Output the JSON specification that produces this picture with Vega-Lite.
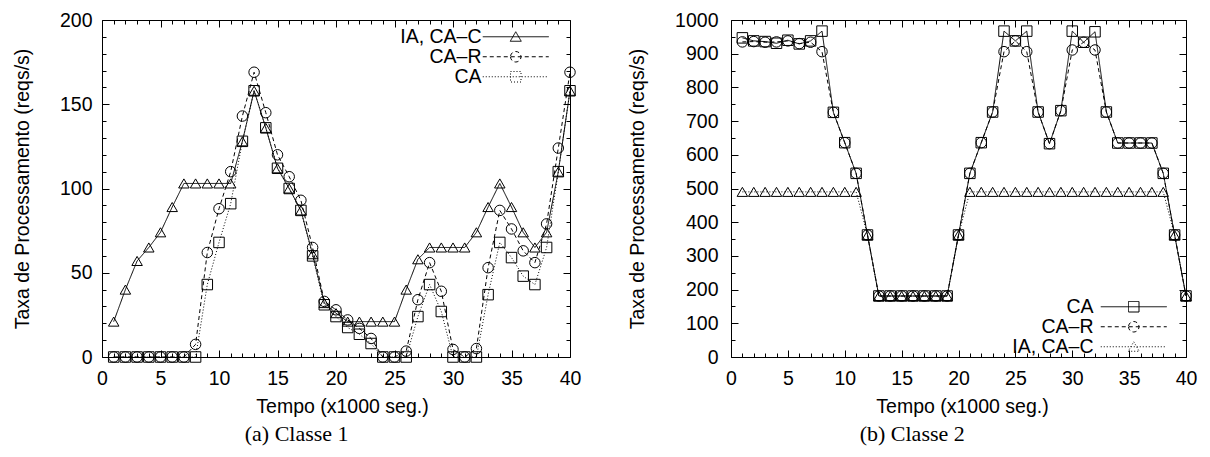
{
  "$schema": "https://vega.github.io/schema/vega-lite/v6.json",
  "background": "white",
  "padding": {"left": 11, "top": 9, "right": 5, "bottom": 2},
  "spacing": 45,
  "config": {
    "view": {"stroke": "black", "strokeWidth": 1},
    "font": "Liberation Sans",
    "axis": {"domain": false, "grid": false, "tickColor": "black", "tickWidth": 1, "labelColor": "black", "labelFont": "Liberation Sans", "labelFontSize": 19.5, "titleFont": "Liberation Sans", "titleFontSize": 19.5, "titleFontWeight": "normal", "titleColor": "black", "labelFlush": false, "labelOverlap": false},
    "axisX": {"titlePadding": 10, "labelPadding": 19},
    "axisY": {"titlePadding": 27, "labelPadding": 17},
    "title": {"font": "Liberation Serif", "fontSize": 22, "fontWeight": "normal", "color": "black", "orient": "bottom", "frame": "bounds", "offset": 8},
    "legend": {"title": null, "labelFont": "Liberation Sans", "labelFontSize": 19.5, "labelColor": "black", "labelAlign": "right", "labelOffset": -44, "symbolSize": 100, "symbolStrokeWidth": 1, "symbolStrokeColor": "black", "symbolFillColor": "transparent", "rowPadding": -1, "padding": 0, "orient": "none"}
  },
  "datasets": {
    "c1": [
      {"t":1,"v":21,"s":"IA, CA–C"},{"t":2,"v":40,"s":"IA, CA–C"},{"t":3,"v":57,"s":"IA, CA–C"},{"t":4,"v":65,"s":"IA, CA–C"},{"t":5,"v":74,"s":"IA, CA–C"},{"t":6,"v":89,"s":"IA, CA–C"},{"t":7,"v":103,"s":"IA, CA–C"},{"t":8,"v":103,"s":"IA, CA–C"},{"t":9,"v":103,"s":"IA, CA–C"},{"t":10,"v":103,"s":"IA, CA–C"},
      {"t":11,"v":103,"s":"IA, CA–C"},{"t":12,"v":128,"s":"IA, CA–C"},{"t":13,"v":158,"s":"IA, CA–C"},{"t":14,"v":136,"s":"IA, CA–C"},{"t":15,"v":112,"s":"IA, CA–C"},{"t":16,"v":100,"s":"IA, CA–C"},{"t":17,"v":87,"s":"IA, CA–C"},{"t":18,"v":61,"s":"IA, CA–C"},{"t":19,"v":32,"s":"IA, CA–C"},{"t":20,"v":26,"s":"IA, CA–C"},
      {"t":21,"v":21,"s":"IA, CA–C"},{"t":22,"v":21,"s":"IA, CA–C"},{"t":23,"v":21,"s":"IA, CA–C"},{"t":24,"v":21,"s":"IA, CA–C"},{"t":25,"v":21,"s":"IA, CA–C"},{"t":26,"v":40,"s":"IA, CA–C"},{"t":27,"v":58,"s":"IA, CA–C"},{"t":28,"v":65,"s":"IA, CA–C"},{"t":29,"v":65,"s":"IA, CA–C"},{"t":30,"v":65,"s":"IA, CA–C"},
      {"t":31,"v":65,"s":"IA, CA–C"},{"t":32,"v":74,"s":"IA, CA–C"},{"t":33,"v":89,"s":"IA, CA–C"},{"t":34,"v":103,"s":"IA, CA–C"},{"t":35,"v":89,"s":"IA, CA–C"},{"t":36,"v":74,"s":"IA, CA–C"},{"t":37,"v":65,"s":"IA, CA–C"},{"t":38,"v":74,"s":"IA, CA–C"},{"t":39,"v":110,"s":"IA, CA–C"},{"t":40,"v":158,"s":"IA, CA–C"},
      {"t":1,"v":0,"s":"CA–R"},{"t":2,"v":0,"s":"CA–R"},{"t":3,"v":0,"s":"CA–R"},{"t":4,"v":0,"s":"CA–R"},{"t":5,"v":0,"s":"CA–R"},{"t":6,"v":0,"s":"CA–R"},{"t":7,"v":0,"s":"CA–R"},{"t":8,"v":7.5,"s":"CA–R"},{"t":9,"v":62,"s":"CA–R"},{"t":10,"v":88,"s":"CA–R"},
      {"t":11,"v":110,"s":"CA–R"},{"t":12,"v":143,"s":"CA–R"},{"t":13,"v":169,"s":"CA–R"},{"t":14,"v":145,"s":"CA–R"},{"t":15,"v":120,"s":"CA–R"},{"t":16,"v":107,"s":"CA–R"},{"t":17,"v":93,"s":"CA–R"},{"t":18,"v":65,"s":"CA–R"},{"t":19,"v":33,"s":"CA–R"},{"t":20,"v":28,"s":"CA–R"},
      {"t":21,"v":22,"s":"CA–R"},{"t":22,"v":17,"s":"CA–R"},{"t":23,"v":11,"s":"CA–R"},{"t":24,"v":0,"s":"CA–R"},{"t":25,"v":0,"s":"CA–R"},{"t":26,"v":3.5,"s":"CA–R"},{"t":27,"v":34,"s":"CA–R"},{"t":28,"v":56,"s":"CA–R"},{"t":29,"v":39,"s":"CA–R"},{"t":30,"v":4.5,"s":"CA–R"},
      {"t":31,"v":0,"s":"CA–R"},{"t":32,"v":5,"s":"CA–R"},{"t":33,"v":53,"s":"CA–R"},{"t":34,"v":87,"s":"CA–R"},{"t":35,"v":76,"s":"CA–R"},{"t":36,"v":63,"s":"CA–R"},{"t":37,"v":56,"s":"CA–R"},{"t":38,"v":79,"s":"CA–R"},{"t":39,"v":124,"s":"CA–R"},{"t":40,"v":169,"s":"CA–R"},
      {"t":1,"v":0,"s":"CA"},{"t":2,"v":0,"s":"CA"},{"t":3,"v":0,"s":"CA"},{"t":4,"v":0,"s":"CA"},{"t":5,"v":0,"s":"CA"},{"t":6,"v":0,"s":"CA"},{"t":7,"v":0,"s":"CA"},{"t":8,"v":0,"s":"CA"},{"t":9,"v":43,"s":"CA"},{"t":10,"v":68,"s":"CA"},
      {"t":11,"v":91,"s":"CA"},{"t":12,"v":128,"s":"CA"},{"t":13,"v":158,"s":"CA"},{"t":14,"v":136,"s":"CA"},{"t":15,"v":112,"s":"CA"},{"t":16,"v":100,"s":"CA"},{"t":17,"v":87,"s":"CA"},{"t":18,"v":60,"s":"CA"},{"t":19,"v":31,"s":"CA"},{"t":20,"v":24,"s":"CA"},
      {"t":21,"v":17.5,"s":"CA"},{"t":22,"v":13.5,"s":"CA"},{"t":23,"v":8,"s":"CA"},{"t":24,"v":0,"s":"CA"},{"t":25,"v":0,"s":"CA"},{"t":26,"v":0,"s":"CA"},{"t":27,"v":24,"s":"CA"},{"t":28,"v":43,"s":"CA"},{"t":29,"v":27,"s":"CA"},{"t":30,"v":0,"s":"CA"},
      {"t":31,"v":0,"s":"CA"},{"t":32,"v":0,"s":"CA"},{"t":33,"v":37,"s":"CA"},{"t":34,"v":68,"s":"CA"},{"t":35,"v":59,"s":"CA"},{"t":36,"v":48,"s":"CA"},{"t":37,"v":43,"s":"CA"},{"t":38,"v":65,"s":"CA"},{"t":39,"v":110,"s":"CA"},{"t":40,"v":158,"s":"CA"}
    ],
    "c2": [
      {"t":1,"v":947,"s":"CA"},{"t":2,"v":938,"s":"CA"},{"t":3,"v":936,"s":"CA"},{"t":4,"v":931,"s":"CA"},{"t":5,"v":940,"s":"CA"},{"t":6,"v":929,"s":"CA"},{"t":7,"v":938,"s":"CA"},{"t":8,"v":967,"s":"CA"},{"t":9,"v":726,"s":"CA"},{"t":10,"v":636,"s":"CA"},
      {"t":11,"v":545,"s":"CA"},{"t":12,"v":362,"s":"CA"},{"t":13,"v":181,"s":"CA"},{"t":14,"v":181,"s":"CA"},{"t":15,"v":181,"s":"CA"},{"t":16,"v":181,"s":"CA"},{"t":17,"v":181,"s":"CA"},{"t":18,"v":181,"s":"CA"},{"t":19,"v":181,"s":"CA"},{"t":20,"v":362,"s":"CA"},
      {"t":21,"v":545,"s":"CA"},{"t":22,"v":636,"s":"CA"},{"t":23,"v":727,"s":"CA"},{"t":24,"v":967,"s":"CA"},{"t":25,"v":938,"s":"CA"},{"t":26,"v":967,"s":"CA"},{"t":27,"v":727,"s":"CA"},{"t":28,"v":633,"s":"CA"},{"t":29,"v":731,"s":"CA"},{"t":30,"v":967,"s":"CA"},
      {"t":31,"v":934,"s":"CA"},{"t":32,"v":965,"s":"CA"},{"t":33,"v":727,"s":"CA"},{"t":34,"v":635,"s":"CA"},{"t":35,"v":635,"s":"CA"},{"t":36,"v":635,"s":"CA"},{"t":37,"v":635,"s":"CA"},{"t":38,"v":545,"s":"CA"},{"t":39,"v":362,"s":"CA"},{"t":40,"v":181,"s":"CA"},
      {"t":1,"v":935,"s":"CA–R"},{"t":2,"v":936,"s":"CA–R"},{"t":3,"v":934,"s":"CA–R"},{"t":4,"v":935,"s":"CA–R"},{"t":5,"v":938,"s":"CA–R"},{"t":6,"v":930,"s":"CA–R"},{"t":7,"v":934,"s":"CA–R"},{"t":8,"v":906,"s":"CA–R"},{"t":9,"v":726,"s":"CA–R"},{"t":10,"v":636,"s":"CA–R"},
      {"t":11,"v":545,"s":"CA–R"},{"t":12,"v":362,"s":"CA–R"},{"t":13,"v":181,"s":"CA–R"},{"t":14,"v":181,"s":"CA–R"},{"t":15,"v":181,"s":"CA–R"},{"t":16,"v":181,"s":"CA–R"},{"t":17,"v":181,"s":"CA–R"},{"t":18,"v":181,"s":"CA–R"},{"t":19,"v":181,"s":"CA–R"},{"t":20,"v":362,"s":"CA–R"},
      {"t":21,"v":545,"s":"CA–R"},{"t":22,"v":636,"s":"CA–R"},{"t":23,"v":727,"s":"CA–R"},{"t":24,"v":906,"s":"CA–R"},{"t":25,"v":938,"s":"CA–R"},{"t":26,"v":906,"s":"CA–R"},{"t":27,"v":727,"s":"CA–R"},{"t":28,"v":633,"s":"CA–R"},{"t":29,"v":731,"s":"CA–R"},{"t":30,"v":911,"s":"CA–R"},
      {"t":31,"v":934,"s":"CA–R"},{"t":32,"v":911,"s":"CA–R"},{"t":33,"v":727,"s":"CA–R"},{"t":34,"v":635,"s":"CA–R"},{"t":35,"v":635,"s":"CA–R"},{"t":36,"v":635,"s":"CA–R"},{"t":37,"v":635,"s":"CA–R"},{"t":38,"v":545,"s":"CA–R"},{"t":39,"v":362,"s":"CA–R"},{"t":40,"v":181,"s":"CA–R"},
      {"t":1,"v":490,"s":"IA, CA–C"},{"t":2,"v":490,"s":"IA, CA–C"},{"t":3,"v":490,"s":"IA, CA–C"},{"t":4,"v":490,"s":"IA, CA–C"},{"t":5,"v":490,"s":"IA, CA–C"},{"t":6,"v":490,"s":"IA, CA–C"},{"t":7,"v":490,"s":"IA, CA–C"},{"t":8,"v":490,"s":"IA, CA–C"},{"t":9,"v":490,"s":"IA, CA–C"},{"t":10,"v":490,"s":"IA, CA–C"},
      {"t":11,"v":490,"s":"IA, CA–C"},{"t":12,"v":362,"s":"IA, CA–C"},{"t":13,"v":181,"s":"IA, CA–C"},{"t":14,"v":181,"s":"IA, CA–C"},{"t":15,"v":181,"s":"IA, CA–C"},{"t":16,"v":181,"s":"IA, CA–C"},{"t":17,"v":181,"s":"IA, CA–C"},{"t":18,"v":181,"s":"IA, CA–C"},{"t":19,"v":181,"s":"IA, CA–C"},{"t":20,"v":362,"s":"IA, CA–C"},
      {"t":21,"v":490,"s":"IA, CA–C"},{"t":22,"v":490,"s":"IA, CA–C"},{"t":23,"v":490,"s":"IA, CA–C"},{"t":24,"v":490,"s":"IA, CA–C"},{"t":25,"v":490,"s":"IA, CA–C"},{"t":26,"v":490,"s":"IA, CA–C"},{"t":27,"v":490,"s":"IA, CA–C"},{"t":28,"v":490,"s":"IA, CA–C"},{"t":29,"v":490,"s":"IA, CA–C"},{"t":30,"v":490,"s":"IA, CA–C"},
      {"t":31,"v":490,"s":"IA, CA–C"},{"t":32,"v":490,"s":"IA, CA–C"},{"t":33,"v":490,"s":"IA, CA–C"},{"t":34,"v":490,"s":"IA, CA–C"},{"t":35,"v":490,"s":"IA, CA–C"},{"t":36,"v":490,"s":"IA, CA–C"},{"t":37,"v":490,"s":"IA, CA–C"},{"t":38,"v":490,"s":"IA, CA–C"},{"t":39,"v":362,"s":"IA, CA–C"},{"t":40,"v":181,"s":"IA, CA–C"}
    ]
  },
  "hconcat": [
    {
      "width": 468, "height": 337,
      "title": {"text": "(a) Classe 1"},
      "data": {"name": "c1"},
      "layer": [
        {
          "mark": {"type": "line", "color": "black", "strokeWidth": 1},
          "encoding": {
            "x": {"field": "t", "type": "quantitative", "scale": {"domain": [0, 40], "nice": false, "zero": false}, "axis": {"orient": "bottom", "values": [0,5,10,15,20,25,30,35,40], "tickSize": -7, "title": "Tempo (x1000 seg.)", "titleX": 240}},
            "y": {"field": "v", "type": "quantitative", "scale": {"domain": [0, 200], "nice": false}, "axis": {"orient": "left", "values": [0,50,100,150,200], "tickSize": -7, "title": "Taxa de Processamento (reqs/s)"}},
            "strokeDash": {"field": "s", "type": "nominal", "scale": {"domain": ["IA, CA–C", "CA–R", "CA"], "range": [[1,0],[4,3],[1,2]]},
              "legend": {"legendX": 404, "legendY": 7, "labelOffset": -44,
                "encode": {"symbols": {"update": {"fill": {"value": "transparent"}, "stroke": {"value": "black"}, "shape": {"signal": "datum.value == 'CA' ? 'M-6.6,0H6.6M-1.05,-1.05H1.05V1.05H-1.05Z' : datum.value == 'CA–R' ? 'M-6.6,0H6.6M-1.05,0A1.05,1.05,0,1,0,1.05,0A1.05,1.05,0,1,0,-1.05,0Z' : 'M-6.6,0H6.6M0,-1L1.1,0.9L-1.1,0.9Z'"}}}}}}
          }
        },
        {
          "transform": [{"filter": "datum.s == 'IA, CA–C'"}],
          "mark": {"type": "point", "shape": "triangle-up", "filled": false, "color": "black", "size": 110, "strokeWidth": 1, "opacity": 1},
          "encoding": {
            "x": {"field": "t", "type": "quantitative", "scale": {"domain": [0, 40], "nice": false}, "axis": {"orient": "top", "values": [0,5,10,15,20,25,30,35,40], "tickSize": -7, "labels": false, "title": null}},
            "y": {"field": "v", "type": "quantitative", "scale": {"domain": [0, 200], "nice": false}, "axis": {"orient": "right", "values": [0,50,100,150,200], "tickSize": -7, "labels": false, "title": null}}
          }
        },
        {
          "transform": [{"filter": "datum.s == 'CA–R'"}],
          "mark": {"type": "point", "shape": "circle", "filled": false, "color": "black", "size": 110, "strokeWidth": 1, "opacity": 1},
          "encoding": {
            "x": {"field": "t", "type": "quantitative", "scale": {"domain": [0, 40], "nice": false}, "axis": {"orient": "bottom", "values": [1,2,3,4,6,7,8,9,11,12,13,14,16,17,18,19,21,22,23,24,26,27,28,29,31,32,33,34,36,37,38,39], "tickSize": -4, "labels": false, "title": null}},
            "y": {"field": "v", "type": "quantitative", "scale": {"domain": [0, 200], "nice": false}, "axis": {"orient": "left", "values": [10,20,30,40,60,70,80,90,110,120,130,140,160,170,180,190], "tickSize": -4, "labels": false, "title": null}}
          }
        },
        {
          "transform": [{"filter": "datum.s == 'CA'"}],
          "mark": {"type": "point", "shape": "square", "filled": false, "color": "black", "size": 110, "strokeWidth": 1, "opacity": 1},
          "encoding": {
            "x": {"field": "t", "type": "quantitative", "scale": {"domain": [0, 40], "nice": false}, "axis": {"orient": "top", "values": [1,2,3,4,6,7,8,9,11,12,13,14,16,17,18,19,21,22,23,24,26,27,28,29,31,32,33,34,36,37,38,39], "tickSize": -4, "labels": false, "title": null}},
            "y": {"field": "v", "type": "quantitative", "scale": {"domain": [0, 200], "nice": false}, "axis": {"orient": "right", "values": [10,20,30,40,60,70,80,90,110,120,130,140,160,170,180,190], "tickSize": -4, "labels": false, "title": null}}
          }
        }
      ],
      "resolve": {"axis": {"x": "independent", "y": "independent"}}
    },
    {
      "width": 455, "height": 337,
      "title": {"text": "(b) Classe 2"},
      "data": {"name": "c2"},
      "layer": [
        {
          "mark": {"type": "line", "color": "black", "strokeWidth": 1},
          "encoding": {
            "x": {"field": "t", "type": "quantitative", "scale": {"domain": [0, 40], "nice": false}, "axis": {"orient": "bottom", "values": [0,5,10,15,20,25,30,35,40], "tickSize": -7, "title": "Tempo (x1000 seg.)", "titleX": 231}},
            "y": {"field": "v", "type": "quantitative", "scale": {"domain": [0, 1000], "nice": false}, "axis": {"orient": "left", "values": [0,100,200,300,400,500,600,700,800,900,1000], "format": "d", "tickSize": -7, "labelPadding": 20, "title": "Taxa de Processamento (reqs/s)"}},
            "strokeDash": {"field": "s", "type": "nominal", "scale": {"domain": ["CA", "CA–R", "IA, CA–C"], "range": [[1,0],[4,3],[1,2]]},
              "legend": {"legendX": 393, "legendY": 277, "labelOffset": -50,
                "encode": {"symbols": {"update": {"fill": {"value": "transparent"}, "stroke": {"value": "black"}, "shape": {"signal": "datum.value == 'CA' ? 'M-6.6,0H6.6M-1.05,-1.05H1.05V1.05H-1.05Z' : datum.value == 'CA–R' ? 'M-6.6,0H6.6M-1.05,0A1.05,1.05,0,1,0,1.05,0A1.05,1.05,0,1,0,-1.05,0Z' : 'M-6.6,0H6.6M0,-1L1.1,0.9L-1.1,0.9Z'"}}}}}}
          }
        },
        {
          "transform": [{"filter": "datum.s == 'CA'"}],
          "mark": {"type": "point", "shape": "square", "filled": false, "color": "black", "size": 110, "strokeWidth": 1, "opacity": 1},
          "encoding": {
            "x": {"field": "t", "type": "quantitative", "scale": {"domain": [0, 40], "nice": false}, "axis": {"orient": "top", "values": [0,5,10,15,20,25,30,35,40], "tickSize": -7, "labels": false, "title": null}},
            "y": {"field": "v", "type": "quantitative", "scale": {"domain": [0, 1000], "nice": false}, "axis": {"orient": "right", "values": [0,100,200,300,400,500,600,700,800,900,1000], "tickSize": -7, "labels": false, "title": null}}
          }
        },
        {
          "transform": [{"filter": "datum.s == 'CA–R'"}],
          "mark": {"type": "point", "shape": "circle", "filled": false, "color": "black", "size": 110, "strokeWidth": 1, "opacity": 1},
          "encoding": {
            "x": {"field": "t", "type": "quantitative", "scale": {"domain": [0, 40], "nice": false}, "axis": {"orient": "bottom", "values": [1,2,3,4,6,7,8,9,11,12,13,14,16,17,18,19,21,22,23,24,26,27,28,29,31,32,33,34,36,37,38,39], "tickSize": -4, "labels": false, "title": null}},
            "y": {"field": "v", "type": "quantitative", "scale": {"domain": [0, 1000], "nice": false}, "axis": {"orient": "left", "values": [50,150,250,350,450,550,650,750,850,950], "tickSize": -4, "labels": false, "title": null}}
          }
        },
        {
          "transform": [{"filter": "datum.s == 'IA, CA–C'"}],
          "mark": {"type": "point", "shape": "triangle-up", "filled": false, "color": "black", "size": 110, "strokeWidth": 1, "opacity": 1},
          "encoding": {
            "x": {"field": "t", "type": "quantitative", "scale": {"domain": [0, 40], "nice": false}, "axis": {"orient": "top", "values": [1,2,3,4,6,7,8,9,11,12,13,14,16,17,18,19,21,22,23,24,26,27,28,29,31,32,33,34,36,37,38,39], "tickSize": -4, "labels": false, "title": null}},
            "y": {"field": "v", "type": "quantitative", "scale": {"domain": [0, 1000], "nice": false}, "axis": {"orient": "right", "values": [50,150,250,350,450,550,650,750,850,950], "tickSize": -4, "labels": false, "title": null}}
          }
        }
      ],
      "resolve": {"axis": {"x": "independent", "y": "independent"}}
    }
  ],
  "resolve": {"scale": {"x": "independent", "y": "independent", "strokeDash": "independent"}}
}
